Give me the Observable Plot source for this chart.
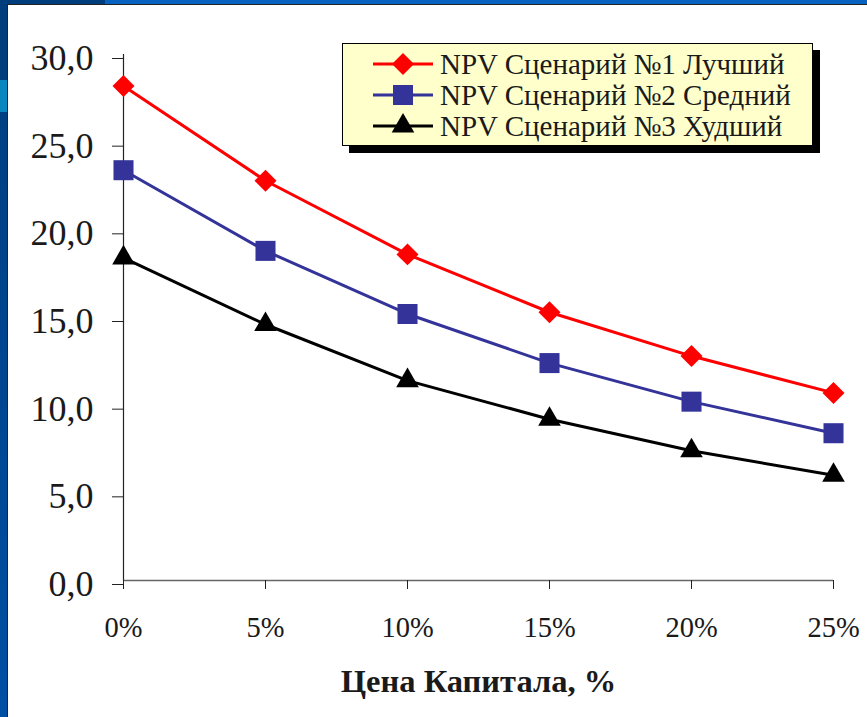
<!DOCTYPE html>
<html>
<head>
<meta charset="utf-8">
<script src="https://cdn.jsdelivr.net/npm/d3@7"></script>
<script src="https://cdn.jsdelivr.net/npm/@observablehq/plot@0.6"></script>
<style>
  html, body { margin: 0; padding: 0; }
  body { width: 867px; height: 717px; position: relative; overflow: hidden;
         background: linear-gradient(to bottom, #003d7c 0px, #003d7c 80px, #0a86c0 80px, #0a86c0 112px, #003f82 112px, #0050a4 717px); }
  #topstrip { position: absolute; left: 105px; top: 0; width: 762px; height: 5px; background: #0862c0; }
  #panel { position: absolute; left: 7px; top: 4px; width: 860px; height: 713px; background: #fff;
           border-left: 1px solid #222; border-top: 1px solid #222; box-sizing: border-box; }
  #chart { position: absolute; left: 8px; top: 5px; }
  #legend { position: absolute; left: 342px; top: 43px; width: 471px; height: 103px; box-sizing: border-box;
            background: #ffffcc; border: 1px solid #000; box-shadow: 7px 7px 0 #000;
            font-family: "Liberation Serif", "DejaVu Serif", serif; font-size: 29px; color: #1a1a1a; }
  .row { position: absolute; left: 0; height: 30px; display: flex; align-items: center; white-space: nowrap; }
  .row svg { margin-left: 30px; margin-right: 7px; }
</style>
</head>
<body>
<div id="topstrip"></div>
<div id="panel"></div>
<div id="chart"></div>
<div id="legend"></div>
<script>
const rates = [0, 5, 10, 15, 20, 25];
const best = [28.2, 22.8, 18.6, 15.3, 12.8, 10.7];
const mid = [23.4, 18.8, 15.2, 12.4, 10.2, 8.4];
const worst = [18.4, 14.6, 11.4, 9.2, 7.4, 6.0];
const seriesNames = ["NPV Сценарий №1 Лучший", "NPV Сценарий №2 Средний", "NPV Сценарий №3 Худший"];
const seriesColors = ["#ff0000", "#333399", "#000000"];
const seriesSymbols = ["diamond2", "square", "triangle"];
const seriesR = [9.9, 11.3, 8.4];
const yTicks = [0, 5, 10, 15, 20, 25, 30];
const xTicks = [0, 5, 10, 15, 20, 25];
const xTitle = "Цена Капитала, %";

const seriesValues = [best, mid, worst];
const rows = seriesValues.flatMap((vals, s) => rates.map((r, i) => ({series: s, rate: r, value: vals[i]})));

const serif = "Liberation Serif, DejaVu Serif, serif";
const fmtY = d => d.toFixed(1).replace(".", ",");

const marks = [
  Plot.ruleX([0], {y1: 0, y2: 30, stroke: "#222", strokeWidth: 1.2}),
  Plot.ruleY([0], {stroke: "#666", strokeWidth: 1.6}),
  Plot.axisY(yTicks, {tickSize: 11, tickPadding: 19, tickFormat: fmtY, fontSize: 36, fontFamily: serif, fill: "#1a1a1a", stroke: "#222", dy: 4}),
  Plot.axisX(xTicks, {tickSize: 9, tickPadding: 27, tickFormat: d => d + "%", fontSize: 28.5, fontFamily: serif, fill: "#1a1a1a", stroke: "#222", label: null}),
  Plot.text([xTitle], {frameAnchor: "bottom", dy: 111, fontSize: 32.5, fontWeight: "bold", fontFamily: serif, fill: "#1a1a1a"})
];
seriesValues.forEach((vals, s) => {
  const d = rows.filter(r => r.series === s);
  marks.push(Plot.line(d, {x: "rate", y: "value", stroke: seriesColors[s], strokeWidth: 3}));
  marks.push(Plot.dot(d, {x: "rate", y: "value", symbol: () => seriesSymbols[s], r: seriesR[s], fill: seriesColors[s], stroke: "none"}));
});

const chart = Plot.plot({
  width: 859,
  height: 712,
  marginLeft: 115,
  marginRight: 34,
  marginTop: 49,
  marginBottom: 137,
  x: {domain: [0, 25], label: null},
  y: {domain: [0, 30], label: null},
  symbol: {type: "identity"},
  style: {background: "transparent", overflow: "visible", fontFamily: serif},
  marks
});
document.getElementById("chart").appendChild(chart);

// Legend (HTML overlay with real text)
const legend = document.getElementById("legend");
seriesNames.forEach((name, s) => {
  const row = document.createElement("div");
  row.className = "row";
  row.style.top = (5 + s * 31) + "px";
  const svg = d3.create("svg").attr("width", 60).attr("height", 30);
  svg.append("line").attr("x1", 0).attr("x2", 60).attr("y1", 15).attr("y2", 15)
    .attr("stroke", seriesColors[s]).attr("stroke-width", 3);
  const sym = {diamond2: d3.symbolDiamond2, square: d3.symbolSquare, triangle: d3.symbolTriangle}[seriesSymbols[s]];
  svg.append("path").attr("transform", "translate(30,15)")
    .attr("d", d3.symbol(sym, Math.PI * seriesR[s] * seriesR[s])())
    .attr("fill", seriesColors[s]);
  row.appendChild(svg.node());
  const span = document.createElement("span");
  span.textContent = name;
  row.appendChild(span);
  legend.appendChild(row);
});
</script>
</body>
</html>
